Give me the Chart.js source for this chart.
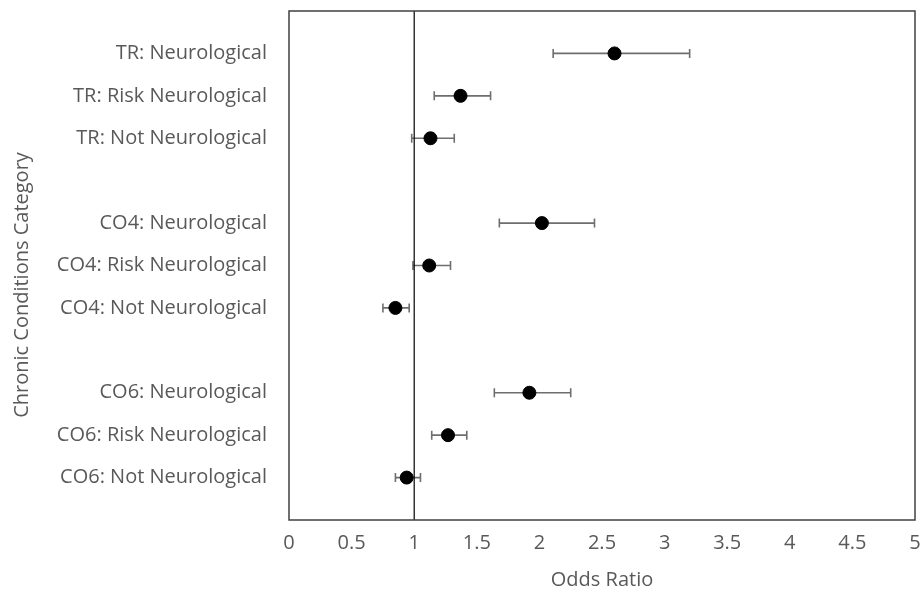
<!DOCTYPE html>
<html><head><meta charset="utf-8">
<script src="https://cdn.jsdelivr.net/npm/chart.js@4"></script>
<style>html,body{margin:0;padding:0;background:#fff}</style>
</head><body>
<canvas id="c" width="920" height="594"></canvas>
<script>
const categories = [
  'TR: Neurological', 'TR: Risk Neurological', 'TR: Not Neurological',
  'CO4: Neurological', 'CO4: Risk Neurological', 'CO4: Not Neurological',
  'CO6: Neurological', 'CO6: Risk Neurological', 'CO6: Not Neurological'
];
const rowPositions = [11, 10, 9, 7, 6, 5, 3, 2, 1];
const oddsRatio = [2.60, 1.37, 1.13, 2.02, 1.12, 0.85, 1.92, 1.27, 0.94];
const ciLower   = [2.11, 1.16, 0.98, 1.68, 0.99, 0.75, 1.64, 1.14, 0.85];
const ciUpper   = [3.20, 1.61, 1.32, 2.44, 1.29, 0.96, 2.25, 1.42, 1.05];
const xTicks = [0, 0.5, 1, 1.5, 2, 2.5, 3, 3.5, 4, 4.5, 5];
const referenceValue = 1;
const yTitle = 'Chronic Conditions Category';

const FONT = '"Open Sans", "Liberation Sans", sans-serif';
const TXT = '#595959';

const errorBarPlugin = {
  id: 'errorBars',
  beforeDatasetsDraw(chart) {
    const ctx = chart.ctx, xs = chart.scales.x, ys = chart.scales.y;
    ctx.save();
    ctx.strokeStyle = '#6e6e6e';
    ctx.lineWidth = 1.6;
    for (let i = 0; i < oddsRatio.length; i++) {
      const y = ys.getPixelForValue(rowPositions[i]);
      const x1 = xs.getPixelForValue(ciLower[i]);
      const x2 = xs.getPixelForValue(ciUpper[i]);
      ctx.beginPath();
      ctx.moveTo(x1, y); ctx.lineTo(x2, y);
      ctx.moveTo(x1, y - 4.5); ctx.lineTo(x1, y + 4.5);
      ctx.moveTo(x2, y - 4.5); ctx.lineTo(x2, y + 4.5);
      ctx.stroke();
    }
    ctx.restore();
  }
};

const framePlugin = {
  id: 'frame',
  afterDraw(chart) {
    const a = chart.chartArea, ctx = chart.ctx;
    ctx.save();
    ctx.strokeStyle = '#404040';
    ctx.lineWidth = 1.5;
    ctx.strokeRect(a.left, a.top, a.right - a.left, a.bottom - a.top);
    // y axis title
    ctx.fillStyle = TXT;
    ctx.font = '20px ' + FONT;
    ctx.textAlign = 'center';
    ctx.textBaseline = 'middle';
    ctx.translate(22, 285);
    ctx.rotate(-Math.PI / 2);
    ctx.fillText(yTitle, 0, 0);
    ctx.restore();
  }
};

new Chart(document.getElementById('c'), {
  type: 'scatter',
  data: {
    datasets: [
      {
        label: 'Odds Ratio',
        data: oddsRatio.map((v, i) => ({ x: v, y: rowPositions[i] })),
        backgroundColor: '#000',
        borderColor: '#000',
        pointRadius: 6.5,
        pointHoverRadius: 6.5,
        order: 0
      },
      {
        type: 'line',
        label: 'Reference',
        data: [{ x: referenceValue, y: 0 }, { x: referenceValue, y: 12 }],
        borderColor: '#000',
        borderWidth: 1.2,
        pointRadius: 0,
        fill: false,
        order: 1
      }
    ]
  },
  options: {
    responsive: false,
    animation: false,
    layout: { autoPadding: false, padding: { top: 11, right: 5, left: 0, bottom: 0 } },
    plugins: { legend: { display: false }, tooltip: { enabled: false } },
    scales: {
      x: {
        type: 'linear', min: 0, max: 5,
        afterBuildTicks(s) { s.ticks = xTicks.map(v => ({ value: v })); },
        afterFit(s) { s.height = 74; s.paddingLeft = 0; s.paddingRight = 0; },
        grid: { display: false, drawTicks: false },
        border: { display: false },
        ticks: { color: TXT, font: { family: FONT, size: 20 }, padding: 11,
          callback: v => String(v) },
        title: { display: true, text: 'Odds Ratio', color: TXT,
          font: { family: FONT, size: 20 }, padding: { top: 4, bottom: 2 } }
      },
      y: {
        type: 'linear', min: 0, max: 12,
        afterBuildTicks(s) { s.ticks = rowPositions.map(v => ({ value: v })); },
        afterFit(s) { s.width = 289; s.paddingTop = 0; s.paddingBottom = 0; },
        grid: { display: false, drawTicks: false },
        border: { display: false },
        ticks: { color: TXT, font: { family: FONT, size: 20 }, padding: 22,
          callback: v => { const i = rowPositions.indexOf(v); return i >= 0 ? categories[i] : ''; } },
        title: { display: false }
      }
    }
  },
  plugins: [errorBarPlugin, framePlugin]
});
</script>
</body></html>
